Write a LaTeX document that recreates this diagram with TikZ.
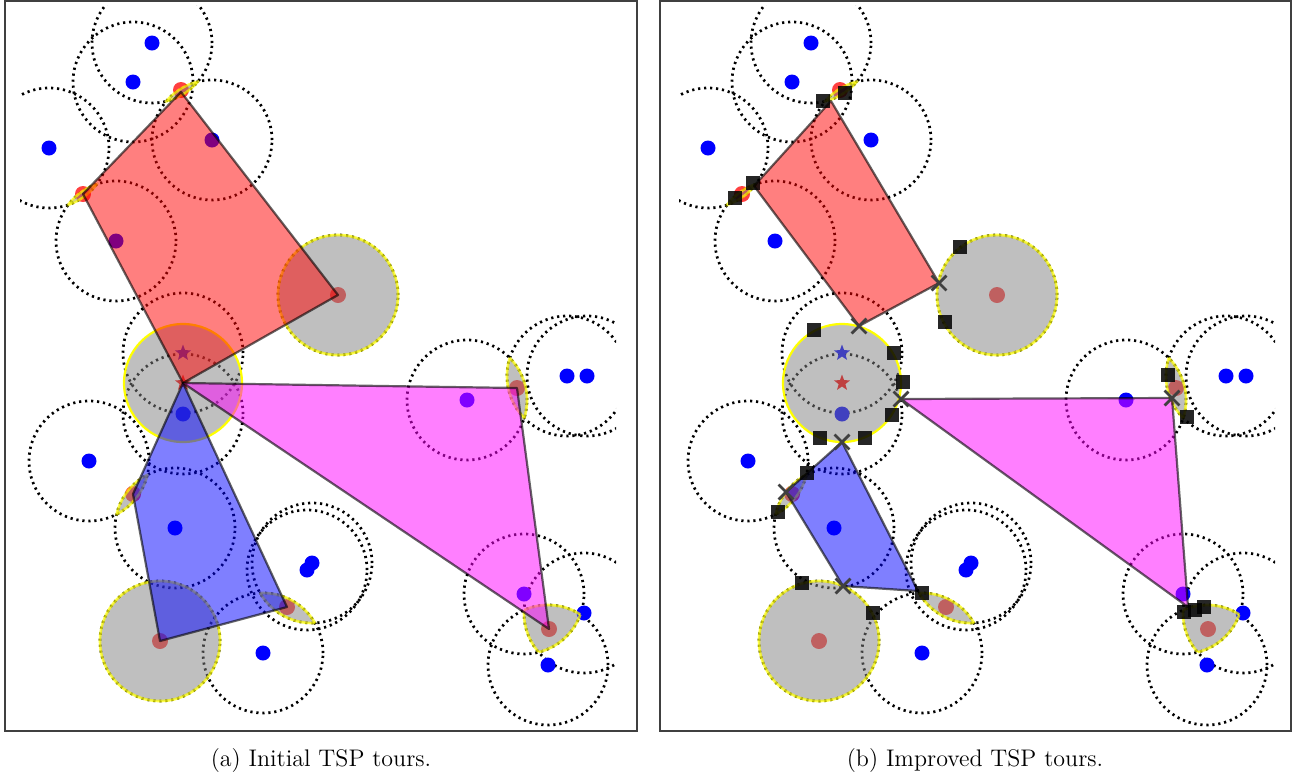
\documentclass[tikz,border=0pt]{standalone}
\usetikzlibrary{shapes.geometric,shapes.misc}
\definecolor{mag}{RGB}{255,0,255}
\definecolor{yel}{RGB}{255,255,0}
\newcommand{\Rad}{30pt}
\tikzset{
  dotc/.style={draw=black, line width=1.35pt, dash pattern=on 1.1pt off 1.9pt},
  bdot/.style={circle, fill=blue, inner sep=0pt, minimum size=7.5pt},
  rdot/.style={circle, fill=red, fill opacity=0.75, inner sep=0pt, minimum size=8pt},
  bstar/.style={star, star points=5, star point ratio=2.4, fill=blue, inner sep=0pt, minimum size=8.5pt},
  rstar/.style={star, star points=5, star point ratio=2.4, fill=red, inner sep=0pt, minimum size=8.5pt},
  gfill/.style={fill=black!50, fill opacity=0.5},
  yedge/.style={draw=yel, line width=1.3pt, draw opacity=0.7},
  ysolid/.style={draw=yel, line width=1.1pt},
  tour/.style={fill opacity=0.5, draw=black, draw opacity=0.6, line width=1.1pt, line join=round},
  tourR/.style={tour, fill=red},
  tourB/.style={tour, fill=blue},
  tourM/.style={tour, fill=mag},
  sqm/.style={rectangle, fill=black, fill opacity=0.85, inner sep=0pt, minimum size=6.8pt},
  xmk/.style={cross out, draw=black!75, line width=1.4pt, minimum size=6pt, inner sep=0pt},
  frame/.style={draw=black!75, line width=0.7pt},
  captext/.style={font=\fontsize{12}{14}\selectfont}
}
\newcommand{\lensfill}[2]{\begin{scope}\clip (#1) circle[radius=\Rad]; \fill[gfill] (#2) circle[radius=\Rad];\end{scope}}
\newcommand{\lensedge}[2]{%
  \begin{scope}\clip (#1) circle[radius=\Rad]; \draw[yedge] (#2) circle[radius=\Rad];\end{scope}%
  \begin{scope}\clip (#2) circle[radius=\Rad]; \draw[yedge] (#1) circle[radius=\Rad];\end{scope}}
\newcommand{\tripfill}[3]{\begin{scope}\clip (#1) circle[radius=\Rad]; \clip (#2) circle[radius=\Rad]; \fill[gfill] (#3) circle[radius=\Rad];\end{scope}}
\newcommand{\tripedge}[3]{%
  \begin{scope}\clip (#1) circle[radius=\Rad]; \clip (#2) circle[radius=\Rad]; \draw[yedge] (#3) circle[radius=\Rad];\end{scope}%
  \begin{scope}\clip (#1) circle[radius=\Rad]; \clip (#3) circle[radius=\Rad]; \draw[yedge] (#2) circle[radius=\Rad];\end{scope}%
  \begin{scope}\clip (#2) circle[radius=\Rad]; \clip (#3) circle[radius=\Rad]; \draw[yedge] (#1) circle[radius=\Rad];\end{scope}}
\newcommand{\panelbg}[1]{%
  \foreach \x/\y in {152/43,133/82,49/148,212/140,116/241,183/353,183/414,89/461,175/528,307/570,312/563,263/653,567/376,587/376,467/400,524/594,584/613,548/665,338/295,160/641}
    \draw[dotc] (\x,\y) circle[radius=\Rad];
  \foreach \x/\y [count=\i] in {152/43,133/82,49/148,212/140,116/241,183/414,89/461,175/528,307/570,312/563,263/653,567/376,587/376,467/400,524/594,584/613,548/665}
    \node[bdot] (#1b\i) at (\x,\y) {};
  \node[bstar] (#1bs) at (183,353) {};
  \foreach \x/\y [count=\i] in {181/90,83/194,338/295,133/494,287/607,160/641,517/388,549/629}
    \node[rdot] (#1r\i) at (\x,\y) {};
  \node[rstar] (#1rs) at (183,383) {};
  % gray regions
  \fill[gfill] (338,295) circle[radius=\Rad]; \draw[yedge] (338,295) circle[radius=\Rad];
  \fill[gfill] (160,641) circle[radius=\Rad]; \draw[yedge] (160,641) circle[radius=\Rad];
  \fill[gfill] (183,383) circle[radius=29.5pt]; \draw[ysolid] (183,383) circle[radius=29.5pt];
  \lensfill{152,43}{212,140}\lensedge{152,43}{212,140}
  \lensfill{49,148}{116,241}\lensedge{49,148}{116,241}
  \lensfill{89,461}{175,528}\lensedge{89,461}{175,528}
  \lensfill{467,400}{567,376}\lensedge{467,400}{567,376}
  \lensfill{263,653}{312,563}\lensedge{263,653}{312,563}
  \tripfill{524,594}{584,613}{548,665}\tripedge{524,594}{584,613}{548,665}
}
\begin{document}
\begin{tikzpicture}[x=0.5pt,y=-0.5pt]
\useasboundingbox (0,0) rectangle (1294,778);
% ---------- left panel ----------
\begin{scope}
  \clip (20,5) rectangle (616,727);
  \panelbg{L}
  \coordinate (LR1) at (181,92);  \coordinate (LR2) at (338,295);
  \coordinate (LR3) at (183,383); \coordinate (LR4) at (83,194);
  \coordinate (LB2) at (133,494); \coordinate (LB3) at (160,641); \coordinate (LB4) at (287,607);
  \coordinate (LM2) at (517,388); \coordinate (LM3) at (549,629);
  \draw[tourR] (LR1) -- (LR2) -- (LR3) -- (LR4) -- cycle;
  \draw[tourB] (LR3) -- (LB2) -- (LB3) -- (LB4) -- cycle;
  \draw[tourM] (LR3) -- (LM2) -- (LM3) -- cycle;
\end{scope}
% ---------- right panel ----------
\begin{scope}[shift={(659,0)}]
  \begin{scope}
  \clip (20,5) rectangle (616,727);
  \panelbg{R}
  \coordinate (RR1) at (172,101); \coordinate (RR2) at (280,283);
  \coordinate (RR3) at (200,326); \coordinate (RR4) at (95,186);
  \coordinate (RM1) at (242,399); \coordinate (RM2) at (513,398); \coordinate (RM3) at (529,607);
  \coordinate (RB1) at (183,442); \coordinate (RB2) at (127,492);
  \coordinate (RB3) at (184,586); \coordinate (RB4) at (259,591);
  \draw[tourR] (RR1) -- (RR2) -- (RR3) -- (RR4) -- cycle;
  \draw[tourM] (RM1) -- (RM2) -- (RM3) -- cycle;
  \draw[tourB] (RB1) -- (RB2) -- (RB3) -- (RB4) -- cycle;
  \foreach \x/\y [count=\i] in {164/101,186/93,94/183,76/198,301/247,286/322,155/330,235/353,244/382,233/415,161/438,206/438,148/473,119/512,143/583,263/593,214/613,509/375,528/417,525/612,536/610,545/607}
    \node[sqm] (sq\i) at (\x,\y) {};
  \foreach \c [count=\i] in {RR2,RR3,RM1,RB1,RB2,RB3,RM2}
    \node[xmk] (xm\i) at (\c) {};
  \end{scope}
\end{scope}
% frames
\draw[frame] (5,1) rectangle (637,731);
\draw[frame] (660,1) rectangle (1291,731);
% captions
\node[captext] (capa) at (321,760) {(a) Initial TSP tours.};
\node[captext] (capb) at (975,760) {(b) Improved TSP tours.};
\end{tikzpicture}
\end{document}
